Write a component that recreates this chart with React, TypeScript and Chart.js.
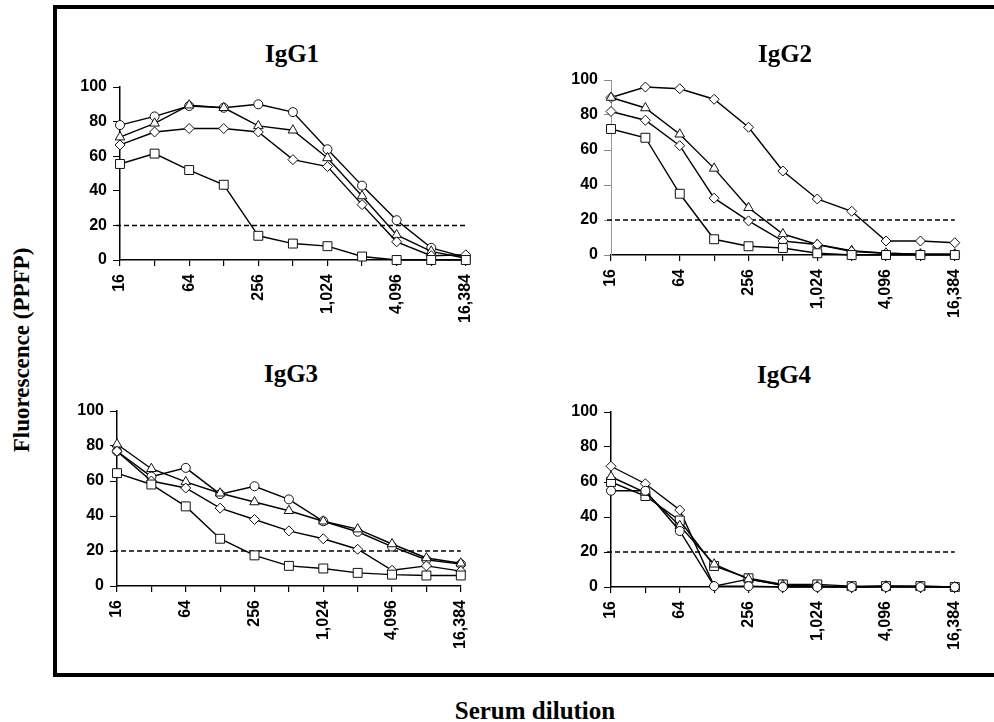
import React, { useEffect, useRef } from 'react';
import { Chart, registerables } from 'chart.js';

Chart.register(...registerables);

// ---------- data ----------
const DILUTIONS = ['16', '32', '64', '128', '256', '512', '1,024', '2,048', '4,096', '8,192', '16,384'];
const Y_MIN = 0;
const Y_MAX = 100;
const Y_STEP = 20;
const THRESHOLD = 20;
const PANEL_TITLES = ['IgG1', 'IgG2', 'IgG3', 'IgG4'];
const Y_TITLE = 'Fluorescence (PPFP)';
const X_TITLE = 'Serum dilution';

const IGG1_CIRCLE = [78, 83, 89, 88, 90, 85.5, 64, 43, 23, 7, 1.5];
const IGG1_TRIANGLE = [71, 79, 89.5, 88, 77.5, 75, 59, 37, 14.5, 5, 1];
const IGG1_DIAMOND = [66.5, 74, 76, 76, 74, 58, 54, 32, 10.5, 2.5, 3];
const IGG1_SQUARE = [55.5, 61.5, 52, 43.5, 14, 9.5, 8, 2, 0, 0, 0];

const IGG2_DIAMOND_HIGH = [90, 96, 95, 89, 73, 48, 32, 25, 8, 8, 7];
const IGG2_TRIANGLE = [90, 84, 69, 49.5, 27, 12, 6, 2.5, 1, 0.5, 0.5];
const IGG2_DIAMOND = [82, 77, 62.5, 32.5, 19.5, 8, 6, 2, 1, 0.5, 0.5];
const IGG2_SQUARE = [72, 67, 35, 9, 5, 4, 1, 0, 0, 0, 0];

const IGG3_CIRCLE = [77, 62.5, 67.5, 52.5, 57, 49.5, 37, 31, 22.5, 15, 12.5];
const IGG3_TRIANGLE = [81, 67, 59.5, 53, 48, 43, 37, 32.5, 24, 16, 13];
const IGG3_DIAMOND = [77, 60, 56, 44.5, 38, 31.5, 27, 21, 9, 11.5, 8.5];
const IGG3_SQUARE = [64.5, 58, 45.5, 27, 17.5, 11.5, 10, 7.5, 6.5, 6, 6];

const IGG4_DIAMOND = [69, 59, 44, 0.5, 4.5, 1, 0.5, 0, 0.5, 0.5, 0];
const IGG4_TRIANGLE = [63, 54, 35, 13, 4.5, 1, 0.5, 0, 0.5, 0, 0];
const IGG4_SQUARE = [60, 52, 38, 12, 5, 1.5, 1.5, 0.5, 0.5, 0.5, 0];
const IGG4_CIRCLE = [55, 55, 32, 0.5, 0.5, 0, 0, 0, 0, 0, 0];

// ---------- styling / layout ----------
const MARKER_RADIUS: Record<string, number> = { circle: 4.5, triangle: 5.5, rectRot: 5, rect: 6.3 };
const SANS = "'Liberation Sans', Arial, sans-serif";
const SERIF = "'Liberation Serif', 'Times New Roman', serif";
const PAD_L = 80;
const PAD_T = 20;
const PAD_R = 20;
const PAD_B = 90;

type Series = { data: number[]; marker: string };
type PanelDef = {
  title: string;
  area: { L: number; R: number; T: number; B: number };
  titlePos: { x: number; y: number };
  dottedY: boolean;
  series: Series[];
};

const PANELS: PanelDef[] = [
  {
    title: PANEL_TITLES[0],
    area: { L: 120, R: 473, T: 87, B: 260 },
    titlePos: { x: 292, y: 53 },
    dottedY: false,
    series: [
      { data: IGG1_SQUARE, marker: 'rect' },
      { data: IGG1_DIAMOND, marker: 'rectRot' },
      { data: IGG1_TRIANGLE, marker: 'triangle' },
      { data: IGG1_CIRCLE, marker: 'circle' },
    ],
  },
  {
    title: PANEL_TITLES[1],
    area: { L: 611, R: 962, T: 80, B: 255 },
    titlePos: { x: 785, y: 53 },
    dottedY: true,
    series: [
      { data: IGG2_SQUARE, marker: 'rect' },
      { data: IGG2_DIAMOND, marker: 'rectRot' },
      { data: IGG2_TRIANGLE, marker: 'triangle' },
      { data: IGG2_DIAMOND_HIGH, marker: 'rectRot' },
    ],
  },
  {
    title: PANEL_TITLES[2],
    area: { L: 117, R: 468, T: 411, B: 586 },
    titlePos: { x: 291, y: 373 },
    dottedY: false,
    series: [
      { data: IGG3_SQUARE, marker: 'rect' },
      { data: IGG3_DIAMOND, marker: 'rectRot' },
      { data: IGG3_TRIANGLE, marker: 'triangle' },
      { data: IGG3_CIRCLE, marker: 'circle' },
    ],
  },
  {
    title: PANEL_TITLES[3],
    area: { L: 611, R: 962, T: 412, B: 587 },
    titlePos: { x: 784, y: 374 },
    dottedY: false,
    series: [
      { data: IGG4_CIRCLE, marker: 'circle' },
      { data: IGG4_TRIANGLE, marker: 'triangle' },
      { data: IGG4_SQUARE, marker: 'rect' },
      { data: IGG4_DIAMOND, marker: 'rectRot' },
    ],
  },
];

const thresholdPlugin = {
  id: 'threshold',
  beforeDatasetsDraw(chart: any, _args: any, opts: any) {
    const y = chart.scales.y.getPixelForValue(opts.value);
    const { left, right } = chart.chartArea;
    const ctx = chart.ctx;
    ctx.save();
    ctx.setLineDash([5, 3]);
    ctx.lineWidth = 1.5;
    ctx.strokeStyle = '#000';
    ctx.beginPath();
    ctx.moveTo(left - 4, y);
    ctx.lineTo(right, y);
    ctx.stroke();
    ctx.restore();
  },
};

function Panel({ def }: { def: PanelDef }) {
  const ref = useRef<HTMLCanvasElement>(null);
  const { L, R, T, B } = def.area;
  const w = R - L + PAD_L + PAD_R;
  const h = B - T + PAD_T + PAD_B;

  useEffect(() => {
    if (!ref.current) return;
    const tickFont = { family: SANS, size: 16, weight: 'bold' as const };
    const chart = new Chart(ref.current, {
      type: 'line',
      data: {
        labels: DILUTIONS,
        datasets: def.series.map((s) => ({
          data: s.data,
          borderColor: '#000',
          borderWidth: 1.4,
          pointStyle: s.marker as any,
          pointRadius: MARKER_RADIUS[s.marker],
          pointBackgroundColor: '#fff',
          pointBorderColor: '#111',
          pointBorderWidth: 1,
          tension: 0,
          clip: false as any,
        })),
      },
      options: {
        responsive: false,
        animation: false,
        devicePixelRatio: 1,
        layout: { padding: { left: 0, top: PAD_T, right: PAD_R, bottom: 0 } },
        plugins: {
          legend: { display: false },
          tooltip: { enabled: false },
          title: { display: false },
          threshold: { value: THRESHOLD },
        } as any,
        scales: {
          x: {
            type: 'category',
            offset: false,
            afterFit: (s: any) => {
              s.height = PAD_B;
            },
            grid: {
              display: true,
              drawOnChartArea: false,
              drawTicks: true,
              tickLength: 6,
              color: '#000',
              lineWidth: 1.2,
            },
            border: { display: true, color: '#000', width: 1.5 },
            ticks: {
              autoSkip: false,
              minRotation: 90,
              maxRotation: 90,
              padding: 8,
              color: '#000',
              font: tickFont,
              callback: (_v: any, i: number) => (i % 2 === 0 ? DILUTIONS[i] : ''),
            },
          },
          y: {
            min: Y_MIN,
            max: Y_MAX,
            afterFit: (s: any) => {
              s.width = PAD_L;
            },
            grid: {
              display: true,
              drawOnChartArea: false,
              drawTicks: true,
              tickLength: 7,
              color: def.dottedY ? '#888' : '#000',
              lineWidth: 1,
            },
            border: def.dottedY
              ? { display: true, color: '#999', width: 1, dash: [2, 3] }
              : { display: true, color: '#000', width: 1.5 },
            ticks: {
              stepSize: Y_STEP,
              padding: 6,
              color: '#000',
              font: tickFont,
            },
          },
        },
      },
      plugins: [thresholdPlugin],
    });
    return () => chart.destroy();
  }, [def]);

  return (
    <canvas
      ref={ref}
      width={w}
      height={h}
      style={{ position: 'absolute', left: L - PAD_L, top: T - PAD_T, width: w, height: h }}
    />
  );
}

const textBase: React.CSSProperties = {
  position: 'absolute',
  fontFamily: SERIF,
  fontWeight: 'bold',
  color: '#000',
  lineHeight: 1,
  whiteSpace: 'nowrap',
};

export default function App() {
  return (
    <div
      style={{
        position: 'absolute',
        left: 0,
        top: 0,
        width: 994,
        height: 722,
        overflow: 'hidden',
        background: '#fff',
      }}
    >
      <div
        style={{
          position: 'absolute',
          left: 53,
          top: 5,
          width: 960,
          height: 672,
          border: '4px solid #000',
          boxSizing: 'border-box',
        }}
      />
      {PANELS.map((p) => (
        <Panel key={p.title} def={p} />
      ))}
      {PANELS.map((p) => (
        <div
          key={'t' + p.title}
          style={{
            ...textBase,
            fontSize: 25,
            left: p.titlePos.x,
            top: p.titlePos.y,
            transform: 'translate(-50%, -50%)',
          }}
        >
          {p.title}
        </div>
      ))}
      <div
        style={{
          ...textBase,
          fontSize: 23,
          left: 21,
          top: 350,
          transform: 'translate(-50%, -50%) rotate(-90deg)',
        }}
      >
        {Y_TITLE}
      </div>
      <div
        style={{
          ...textBase,
          fontSize: 25,
          left: 535,
          top: 710,
          transform: 'translate(-50%, -50%)',
        }}
      >
        {X_TITLE}
      </div>
    </div>
  );
}
